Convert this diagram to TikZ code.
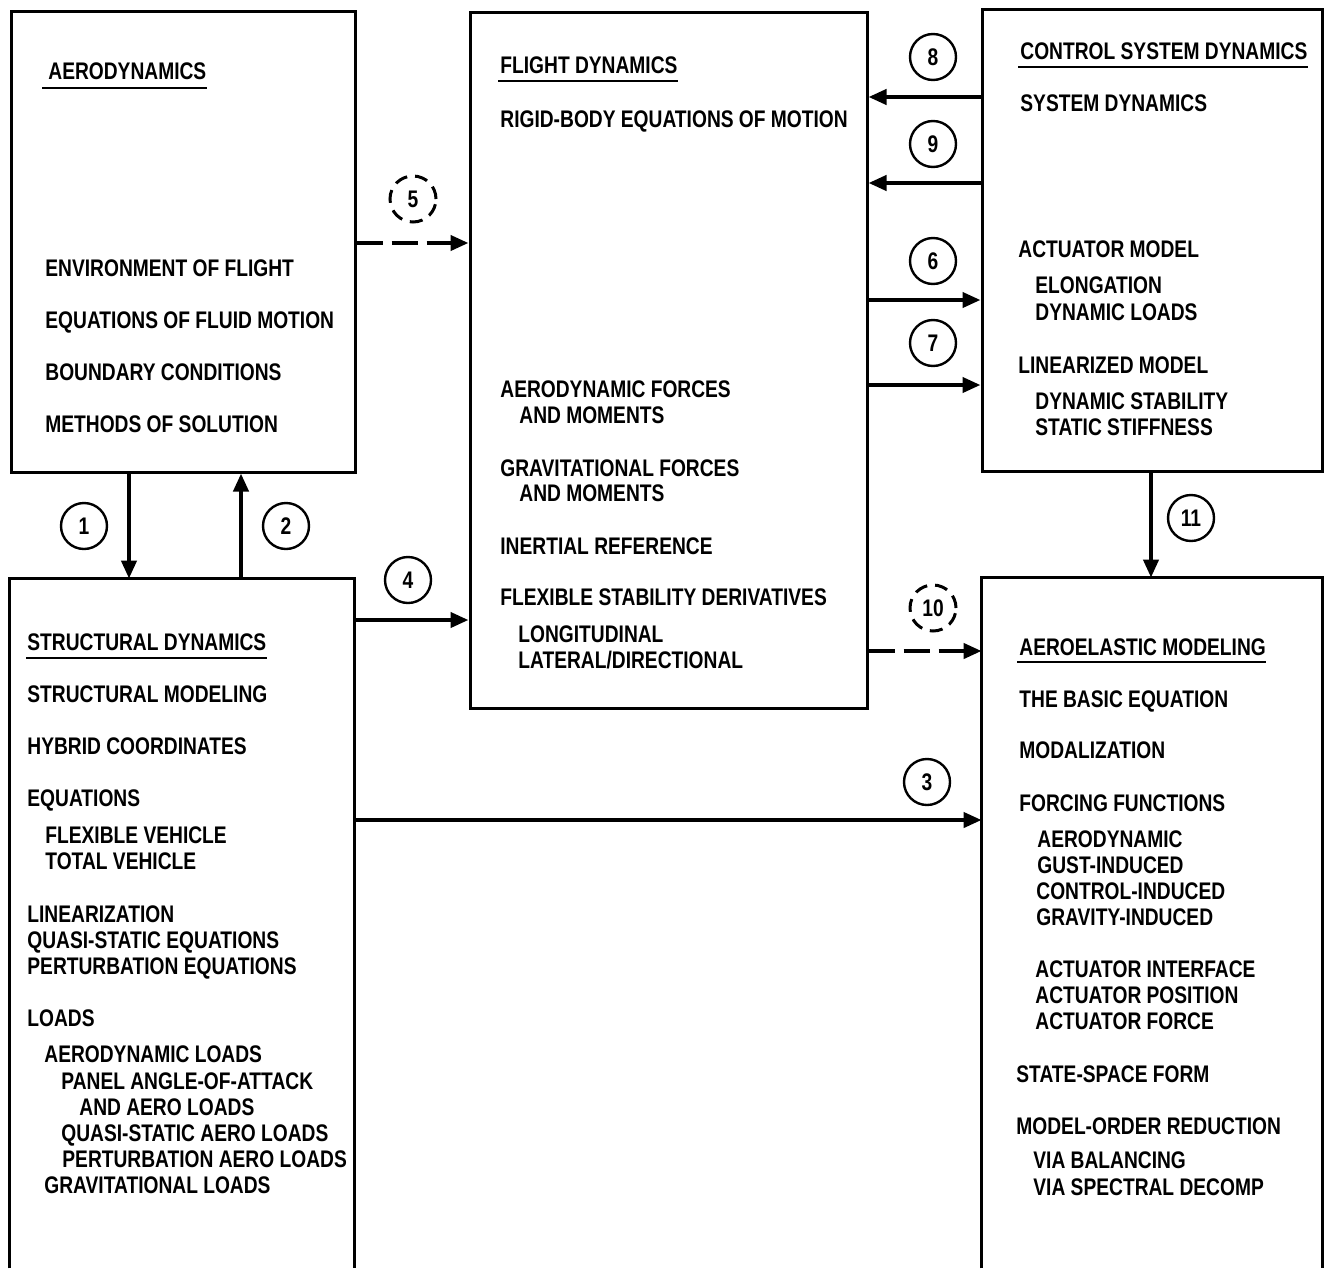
\documentclass[tikz,border=0pt]{standalone}
\usepackage{fontspec}
\newfontfamily\lbl{Liberation Sans Bold}[FakeStretch=0.8]
\usetikzlibrary{arrows.meta,fit}
\begin{document}
\begin{tikzpicture}[x=0.5pt,y=-0.5pt,
  boxline/.style={line width=1.5pt},
  frame/.style={draw, line width=1.5pt, inner sep=0pt},
  area/.style={inner sep=0pt},
  txt/.style={anchor=base west, inner sep=0pt, font=\lbl\fontsize{12}{14}\selectfont},
  uline/.style={line width=1.2pt},
  arr/.style={line width=2pt, -{Triangle[length=9pt,width=7.5pt]}},
  darr/.style={arr, dash pattern=on 13pt off 4.5pt},
  num/.style={circle, draw, line width=1.2pt, minimum size=23pt, inner sep=0pt, font=\lbl\fontsize{12}{14}\selectfont},
  dnum/.style={num, line width=1.5pt, dash pattern=on 6.5pt off 4pt},
]
\useasboundingbox (0,0) rectangle (1326,1268);

% boxes
\node[frame, fit={(11,12) (355,472)}] (aero) {};
\node[frame, fit={(470,13) (867,708)}] (fd) {};
\node[frame, fit={(982,10) (1322,471)}] (csd) {};
\node[area, fit={(10,579) (354,1268)}] (sd) {};
\node[area, fit={(982,578) (1322,1268)}] (ae) {};
\draw[boxline] (sd.south west) -- (sd.north west) -- (sd.north east) -- (sd.south east);
\draw[boxline] (ae.south west) -- (ae.north west) -- (ae.north east) -- (ae.south east);

% Aerodynamics
\node[txt] (a0) at (48,80) {AERODYNAMICS};
\draw[uline] ([shift={(-3pt,-4pt)}]a0.base west) -- ([shift={(0pt,-4pt)}]a0.base east);
\node[txt] (a1) at (45,276) {ENVIRONMENT OF FLIGHT};
\node[txt] (a2) at (45,328) {EQUATIONS OF FLUID MOTION};
\node[txt] (a3) at (45,380) {BOUNDARY CONDITIONS};
\node[txt] (a4) at (45,432) {METHODS OF SOLUTION};

% Flight dynamics
\node[txt] (f0) at (500,74) {FLIGHT DYNAMICS};
\draw[uline] ([shift={(-1pt,-3.5pt)}]f0.base west) -- ([shift={(0pt,-3.5pt)}]f0.base east);
\node[txt] (f1) at (500,127) {RIGID-BODY EQUATIONS OF MOTION};
\node[txt] (f2) at (500,397) {AERODYNAMIC FORCES};
\node[txt] (f3) at (519,423) {AND MOMENTS};
\node[txt] (f4) at (500,476) {GRAVITATIONAL FORCES};
\node[txt] (f5) at (519,501) {AND MOMENTS};
\node[txt] (f6) at (500,554) {INERTIAL REFERENCE};
\node[txt] (f7) at (500,605) {FLEXIBLE STABILITY DERIVATIVES};
\node[txt] (f8) at (518,642) {LONGITUDINAL};
\node[txt] (f9) at (518,668) {LATERAL/DIRECTIONAL};

% Control system dynamics
\node[txt] (c0) at (1020,60) {CONTROL SYSTEM DYNAMICS};
\draw[uline] ([shift={(-1pt,-3.5pt)}]c0.base west) -- ([shift={(0pt,-3.5pt)}]c0.base east);
\node[txt] (c1) at (1020,112) {SYSTEM DYNAMICS};
\node[txt] (c2) at (1018,257) {ACTUATOR MODEL};
\node[txt] (c3) at (1035,293) {ELONGATION};
\node[txt] (c4) at (1035,320) {DYNAMIC LOADS};
\node[txt] (c5) at (1018,373) {LINEARIZED MODEL};
\node[txt] (c6) at (1035,409) {DYNAMIC STABILITY};
\node[txt] (c7) at (1035,435) {STATIC STIFFNESS};

% Structural dynamics
\node[txt] (s0) at (27,650) {STRUCTURAL DYNAMICS};
\draw[uline] ([shift={(-0.5pt,-4pt)}]s0.base west) -- ([shift={(0pt,-4pt)}]s0.base east);
\node[txt] (s1) at (27,702) {STRUCTURAL MODELING};
\node[txt] (s2) at (27,754) {HYBRID COORDINATES};
\node[txt] (s3) at (27,806) {EQUATIONS};
\node[txt] (s4) at (45,843) {FLEXIBLE VEHICLE};
\node[txt] (s5) at (45,869) {TOTAL VEHICLE};
\node[txt] (s6) at (27,922) {LINEARIZATION};
\node[txt] (s7) at (27,948) {QUASI-STATIC EQUATIONS};
\node[txt] (s8) at (27,974) {PERTURBATION EQUATIONS};
\node[txt] (s9) at (27,1026) {LOADS};
\node[txt] (s10) at (44,1062) {AERODYNAMIC LOADS};
\node[txt] (s11) at (61,1089) {PANEL ANGLE-OF-ATTACK};
\node[txt] (s12) at (79,1115) {AND AERO LOADS};
\node[txt] (s13) at (61,1141) {QUASI-STATIC AERO LOADS};
\node[txt] (s14) at (62,1167) {PERTURBATION AERO LOADS};
\node[txt] (s15) at (44,1193) {GRAVITATIONAL LOADS};

% Aeroelastic modeling
\node[txt] (e0) at (1019,655) {AEROELASTIC MODELING};
\draw[uline] ([shift={(-1pt,-3.5pt)}]e0.base west) -- ([shift={(0pt,-3.5pt)}]e0.base east);
\node[txt] (e1) at (1019,707) {THE BASIC EQUATION};
\node[txt] (e2) at (1019,758) {MODALIZATION};
\node[txt] (e3) at (1019,811) {FORCING FUNCTIONS};
\node[txt] (e4) at (1037,847) {AERODYNAMIC};
\node[txt] (e5) at (1037,873) {GUST-INDUCED};
\node[txt] (e6) at (1036,899) {CONTROL-INDUCED};
\node[txt] (e7) at (1036,925) {GRAVITY-INDUCED};
\node[txt] (e8) at (1035,977) {ACTUATOR INTERFACE};
\node[txt] (e9) at (1035,1003) {ACTUATOR POSITION};
\node[txt] (e10) at (1035,1029) {ACTUATOR FORCE};
\node[txt] (e11) at (1016,1082) {STATE-SPACE FORM};
\node[txt] (e12) at (1016,1134) {MODEL-ORDER REDUCTION};
\node[txt] (e13) at (1033,1168) {VIA BALANCING};
\node[txt] (e14) at (1033,1195) {VIA SPECTRAL DECOMP};

% number circles
\node[num] (n1) at (84,526) {1};
\node[num] (n2) at (286,526) {2};
\node[num] (n3) at (927,782) {3};
\node[num] (n4) at (408,580) {4};
\node[dnum] (n5) at (413,199) {5};
\node[num] (n6) at (933,261) {6};
\node[num] (n7) at (933,343) {7};
\node[num] (n8) at (933,57) {8};
\node[num] (n9) at (933,144) {9};
\node[dnum] (n10) at (933,608) {10};
\node[num] (n11) at (1191,518) {11};

% connectors
\draw[arr] (129,0 |- aero.south) -- (129,0 |- sd.north);
\draw[arr] (241,0 |- sd.north) -- (241,0 |- aero.south);
\draw[arr] (sd.east |- 0,620) -- (fd.west |- 0,620);
\draw[arr] (sd.east |- 0,820) -- (ae.west |- 0,820);
\draw[darr] (aero.east |- 0,243) -- (fd.west |- 0,243);
\draw[arr] (csd.west |- 0,97) -- (fd.east |- 0,97);
\draw[arr] (csd.west |- 0,183) -- (fd.east |- 0,183);
\draw[arr] (fd.east |- 0,300) -- (csd.west |- 0,300);
\draw[arr] (fd.east |- 0,385) -- (csd.west |- 0,385);
\draw[darr] (fd.east |- 0,651) -- (ae.west |- 0,651);
\draw[arr] (1151,0 |- csd.south) -- (1151,0 |- ae.north);
\end{tikzpicture}
\end{document}
